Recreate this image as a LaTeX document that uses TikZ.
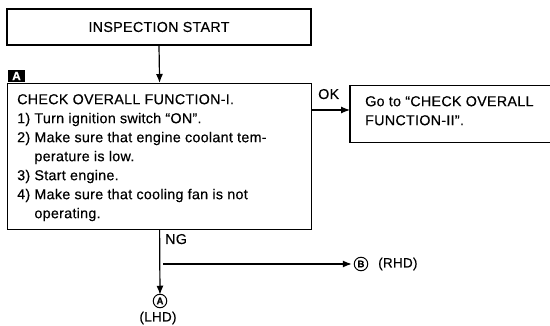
\documentclass[tikz,border=0pt]{standalone}
\usepackage{fontspec}
\setmainfont{Liberation Sans}[LetterSpace=2,FakeBold=0.35]
\usetikzlibrary{arrows.meta}
\begin{document}
\begin{tikzpicture}[x=1pt,y=-1pt,
  box/.style={draw, line width=1.2pt, inner sep=0pt},
  flow/.style={line width=1.2pt, -{Latex[length=9pt,width=7pt]}},
  txt/.style={font=\fontsize{14.3}{19}\selectfont, inner sep=0pt},
  circ/.style={draw, circle, line width=1pt, inner sep=0pt, minimum size=13.5pt, font=\fontsize{9.5}{9.5}\selectfont\bfseries},
]
\useasboundingbox (0,0) rectangle (550,326);
% boxes
\node[box, txt, minimum width=304pt, minimum height=36pt] (start) at (159,27) {INSPECTION START};
\node[box, minimum width=304pt, minimum height=146pt, anchor=north west] (check) at (7,83) {};
\node[txt, anchor=north west, align=left] (checktxt) at (17,94) {CHECK OVERALL FUNCTION-I.\\
1) Turn ignition switch “ON”.\\
2) Make sure that engine coolant tem-\\
\phantom{2)~}perature is low.\\
3) Start engine.\\
4) Make sure that cooling fan is not\\
\phantom{4)~}operating.};
\node[fill=black, text=white, minimum width=17pt, minimum height=11.5pt, inner sep=0pt, font=\fontsize{12}{12}\selectfont\bfseries] (labA) at (16.5,76) {A};
\node[minimum width=200pt, minimum height=56pt, inner sep=0pt, anchor=west] (goto) at (350,114) {};
\draw[line width=1.2pt] (goto.north east) -- (goto.north west) -- (goto.south west) -- (goto.south east);
\node[txt, anchor=north west, align=left] (gototxt) at (365,96) {Go to “CHECK OVERALL\\FUNCTION-II”.};
% connectors
\draw[flow] (start.south) -- (check.north);
\coordinate (okpt) at (311,110);
\draw[flow] (okpt) -- (okpt -| goto.west);
\node[txt, anchor=base west] (ok) at (318,99) {OK};
\node[circ] (cA) at (160,301) {A};
\node[txt, font=\fontsize{13.5}{13.5}\selectfont] (lhd) at (158,318) {(LHD)};
\draw[flow] (check.south) -- ([yshift=-1pt]cA.north);
\node[txt, anchor=base west] (ng) at (165,244) {NG};
\node[circ] (cB) at (361,264) {B};
\node[txt, anchor=west, font=\fontsize{13.5}{13.5}\selectfont] (rhd) at (378,264) {(RHD)};
\coordinate (br) at (163,264);
\draw[flow] (br) -- ([xshift=-2pt]cB.west);
\end{tikzpicture}
\end{document}
